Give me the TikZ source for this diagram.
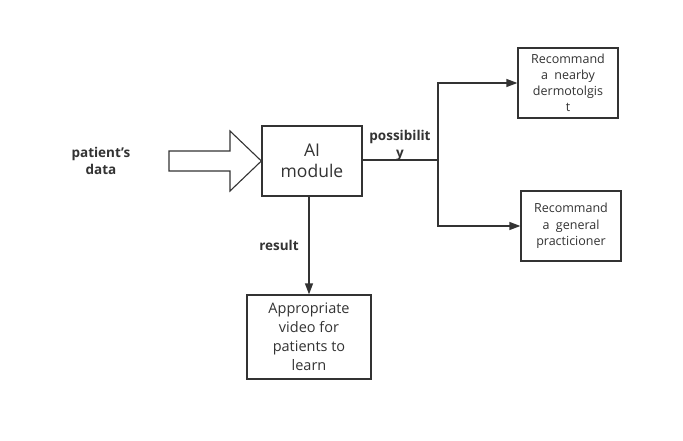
\documentclass[tikz,border=0pt]{standalone}
\usepackage{fontspec}
\setmainfont{Open Sans}
\usetikzlibrary{arrows.meta}
\definecolor{ink}{HTML}{333333}
\begin{document}
\begin{tikzpicture}[x=1pt,y=-1pt,
  box/.style={draw=ink,line width=1.3pt,fill=white,align=center,inner sep=0pt,text=ink},
  lbl/.style={font=\fontsize{13.5}{17}\selectfont\bfseries,text=ink,align=center,inner sep=0pt},
  conn/.style={draw=ink,line width=1.3pt},
  tip/.style={-{Triangle[length=11pt,width=8pt]}}]
\useasboundingbox[fill=white] (0,0) rectangle (683,441);
\node[box,minimum width=100pt,minimum height=70pt,font=\fontsize{17.5}{21}\selectfont] (ai) at (312,161) {AI\\module};
\node[box,minimum width=100pt,minimum height=70pt,font=\fontsize{12.5}{16}\selectfont] (derm) at (568,83) {Recommand\\a\ \ nearby\\dermotolgis\\t};
\node[box,minimum width=100pt,minimum height=70pt,font=\fontsize{12.5}{16.5}\selectfont] (gp) at (571,226) {Recommand\\a\ \ general\\practicioner};
\node[box,minimum width=124pt,minimum height=84pt,font=\fontsize{14.5}{19}\selectfont] (video) at (309,337) {Appropriate\\video for\\patients to\\learn};
\node[lbl] (pd) at (101,161) {patient\char39 s\\data};
\node[lbl] (poss) at (400,145) {possibilit\\y};
\node[lbl] (res) at (279,245) {result};
\coordinate (fork) at (438,160);
\draw[draw=ink,line width=1.1pt,fill=white] (169,151) -- (230,151) -- (230,131) -- (ai.west) -- (230,191) -- (230,171) -- (169,171) -- cycle;
\draw[conn] (ai.east |- fork) -- (fork);
\draw[conn,tip] (fork) |- (derm.west);
\draw[conn,tip] (fork) |- (gp.west);
\draw[conn,tip] (ai.south -| video.north) -- (video.north);
\end{tikzpicture}
\end{document}
